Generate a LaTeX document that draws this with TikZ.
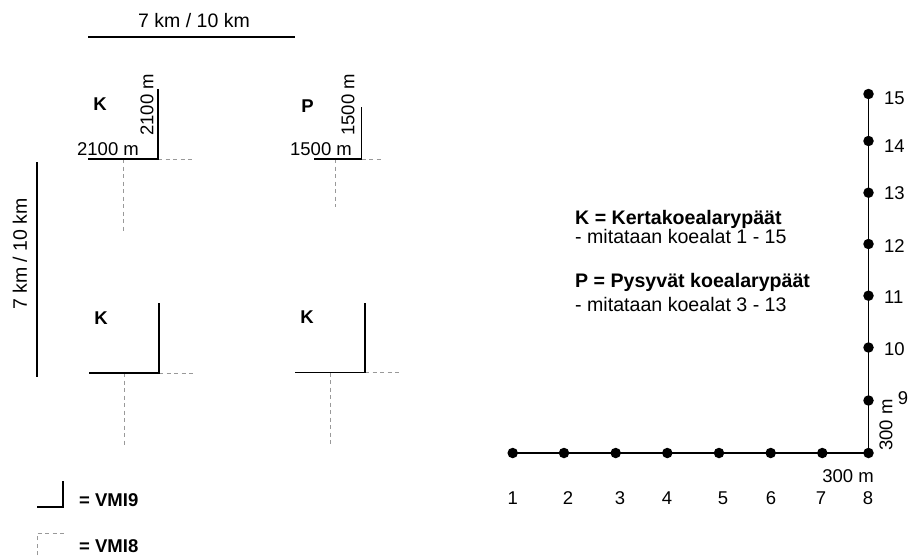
\documentclass[tikz,border=0pt]{standalone}
\usepackage{fontspec}
\setmainfont{Liberation Sans}
\tikzset{
  vmi9/.style={line width=1.4pt},
  vmi8/.style={gray!80,line width=.7pt,dash pattern=on 4pt off 3.5pt},
  txt/.style={font=\fontsize{18.5}{21}\selectfont,inner sep=0pt},
  btxt/.style={font=\fontsize{18.5}{21}\selectfont\bfseries,inner sep=0pt},
  note/.style={font=\fontsize{19.6}{22}\selectfont,inner sep=0pt,anchor=base west},
  bnote/.style={note,font=\fontsize{19.6}{22}\selectfont\bfseries},
  plot/.style={circle,fill,inner sep=0pt,minimum size=10.5pt}
}
\begin{document}
\begin{tikzpicture}[x=1pt,y=-1pt]
\useasboundingbox (0,0) rectangle (911,555);
\draw[vmi9] (88,37)--(295,37) (37,162)--(37,377);
\node[txt,font=\fontsize{19.5}{22}\selectfont] (sx) at (194,21) {7 km / 10 km};
\node[txt,font=\fontsize{19.5}{22}\selectfont,rotate=90] (sy) at (20,254) {7 km / 10 km};
\foreach \x/\y/\nm in {158/159/ka,159/373/kb,365/372.5/kc}{
\begin{scope}[shift={(\x,\y)}]
\draw[vmi8] (0,0)--(36,0) (-35,0)--(-35,72);\draw[vmi9] (-70,0)--(0,0)--(0,-70);
\node[btxt] (\nm) at (-58,-55) {K};\end{scope}}
\begin{scope}[shift={(361.5,159)}]
\draw[vmi8] (0,0)--(22,0) (-26.5,0)--(-26.5,48);\draw[vmi9] (-47.5,0)--(0,0)--(0,-52);
\node[btxt] (p) at (-54,-53) {P};\end{scope}
\node[txt,rotate=90] (ka-v) at (147,105) {2100 m};\node[txt] (ka-h) at (108,149) {2100 m};
\node[txt,rotate=90] (p-v) at (348,105) {1500 m};\node[txt] (p-h) at (321,149) {1500 m};
\foreach \x/\y/\n in {512.7/453/1,564/453/2,615.7/453/3,667.3/453/4,719/453/5,770.7/453/6,822.3/453/7,868.5/453/8,
  868.5/400.5/9,868.5/347.5/10,868.5/295.7/11,868.5/244/12,868.5/192.7/13,868.5/141/14,868.5/94/15}{\node[plot] (t\n) at (\x,\y) {};}
\draw[line width=1.2pt] (t1.center)--(t8.center)--(t15.center);
\foreach \n/\x in {1/512.7,2/568,3/620,4/667,5/723,6/771,7/821,8/868}{\node[txt] (l\n) at (\x,498) {\n};}
\foreach \n/\y in {10/349,11/297,12/246,13/193,14/146,15/98}{\node[txt,anchor=west] (l\n) at (884,\y) {\n};}
\node[txt] (l9) at (903,398) {9};
\node[txt,rotate=90] (v300) at (886,425) {300 m};\node[txt] (h300) at (848,476) {300 m};
\node[bnote] (kdef) at (575,224) {K = Kertakoealarypäät};
\node[note] (kmit) at (575,243.5) {- mitataan koealat 1 - 15};
\node[bnote] (pdef) at (575,287) {P = Pysyvät koealarypäät};
\node[note] (pmit) at (575,311) {- mitataan koealat 3 - 13};
\draw[vmi9] (37,507)--(63,507)--(63,481);
\draw[vmi8] (37,555)--(37,533)--(65,533);
\node[btxt,anchor=west] (leg9) at (79,500) {= VMI9};
\node[btxt,anchor=west] (leg8) at (79,546) {= VMI8};
\end{tikzpicture}
\end{document}
